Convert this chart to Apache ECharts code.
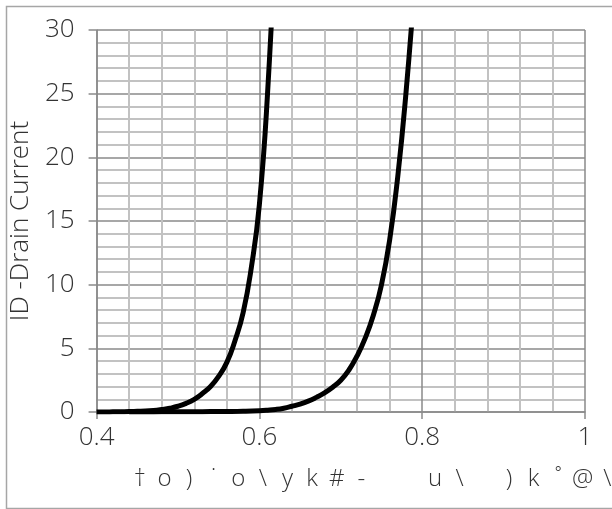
<!DOCTYPE html>
<html>
<head>
<meta charset="utf-8">
<script src="https://cdn.jsdelivr.net/npm/echarts@6/dist/echarts.min.js"></script>
<style>
    html, body { margin: 0; padding: 0; background: #fff; }
    #chart { width: 612px; height: 509px; }
</style>
</head>
<body>
<div id="chart"></div>
<script>
// Drain current curves
var curveAX = [0.40, 0.41, 0.42, 0.43, 0.44, 0.45, 0.46, 0.47, 0.48, 0.49, 0.50, 0.51, 0.52, 0.53, 0.54, 0.55, 0.56, 0.57, 0.58, 0.59, 0.60, 0.61, 0.62];
var curveAY = [0.0, 0.0, 0.01, 0.02, 0.03, 0.05, 0.07, 0.12, 0.2, 0.3, 0.45, 0.68, 1.0, 1.45, 2.0, 2.8, 3.9, 5.6, 7.8, 11.3, 16.3, 25, 38];

var curveBX = [0.44, 0.46, 0.48, 0.50, 0.52, 0.54, 0.56, 0.58, 0.60, 0.61, 0.62, 0.63, 0.64, 0.65, 0.66, 0.67, 0.68, 0.69, 0.70, 0.71, 0.72, 0.73, 0.74, 0.75, 0.76, 0.77, 0.78, 0.79];
var curveBY = [0.0, 0.0, 0.01, 0.01, 0.02, 0.03, 0.04, 0.06, 0.1, 0.14, 0.2, 0.3, 0.45, 0.62, 0.85, 1.15, 1.5, 1.95, 2.5, 3.3, 4.4, 5.8, 7.6, 10.0, 13.5, 18.5, 25, 33];

var yTitle = 'ID -Drain Current';
// x title as it appears in the reference (garbled glyphs)
var xTitleChars = ['†', 'o', ')', '˙', 'o', '\\', 'y', 'k', '#', '-', ' ', ' ', 'u', '\\', ' ', ')', 'k', '˚', '@', '\\'];

var FONT = 'Open Sans';
var TXT = '#333';
var MAJOR = '#8a8a8a';
var MINOR = '#c2c2c2';

function pairs(xs, ys) {
    return xs.map(function(x, i) { return [x, ys[i]]; });
}

var chart = echarts.init(document.getElementById('chart'));

var option = {
    animation: false,
    backgroundColor: '#fff',
    grid: { left: 96, right: 27, top: 30, bottom: 97 },
    xAxis: {
        type: 'value',
        min: 0.4,
        max: 1,
        interval: 0.2,
        axisLine: { show: true, lineStyle: { color: MAJOR, width: 1.5 } },
        axisTick: { show: true, length: 7, lineStyle: { color: MAJOR, width: 1.5 } },
        axisLabel: { color: TXT, fontFamily: FONT, fontWeight: 300, fontSize: 26, margin: 13 },
        splitLine: { show: true, lineStyle: { color: MAJOR, width: 1.5 } },
        minorTick: { show: false, splitNumber: 5 },
        minorSplitLine: { show: true, lineStyle: { color: MINOR, width: 2 } }
    },
    yAxis: {
        type: 'value',
        min: 0,
        max: 30,
        interval: 5,
        name: yTitle,
        nameLocation: 'middle',
        nameGap: 51,
        nameTextStyle: { color: TXT, fontFamily: FONT, fontWeight: 300, fontSize: 26 },
        axisLine: { show: true, lineStyle: { color: MAJOR, width: 1.5 } },
        axisTick: { show: true, length: 8, lineStyle: { color: MAJOR, width: 1.5 } },
        axisLabel: { color: TXT, fontFamily: FONT, fontWeight: 300, fontSize: 26, margin: 22 },
        splitLine: { show: true, lineStyle: { color: MAJOR, width: 1.5 } },
        minorTick: { show: false, splitNumber: 5 },
        minorSplitLine: { show: true, lineStyle: { color: MINOR, width: 2 } }
    },
    graphic: [
        {
            type: 'rect',
            left: 4, top: 4,
            shape: { width: 610, height: 502 },
            style: { fill: 'none', stroke: '#a6a6a6', lineWidth: 1.5 },
            z: -1
        },
        {
            type: 'text',
            left: 134, top: 467,
            style: {
                text: xTitleChars.map(function(c) { return '{c|' + c + '}'; }).join(''),
                rich: { c: { width: 24.6, align: 'center', fontFamily: FONT, fontWeight: 300, fontSize: 24, fill: TXT } }
            }
        }
    ],
    series: [
        {
            type: 'line',
            data: pairs(curveAX, curveAY),
            smooth: 0.5,
            showSymbol: false,
            clip: true,
            lineStyle: { color: '#000', width: 5 }
        },
        {
            type: 'line',
            data: pairs(curveBX, curveBY),
            smooth: 0.5,
            showSymbol: false,
            clip: true,
            lineStyle: { color: '#000', width: 5 }
        }
    ]
};

chart.setOption(option);
</script>
</body>
</html>
